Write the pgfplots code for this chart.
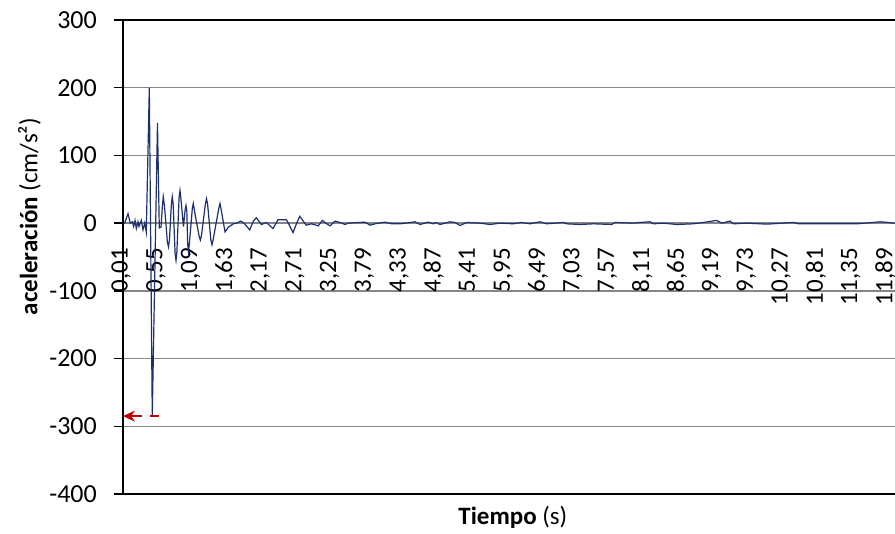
\documentclass[border=0pt]{standalone}
\usepackage{pgfplots}
\pgfplotsset{compat=1.18}
\usepackage{fontspec}
\setmainfont{Carlito}
\usetikzlibrary{arrows.meta,calc}
\definecolor{serie}{RGB}{28,48,112}
\definecolor{grille}{RGB}{134,134,134}
\definecolor{rojo}{RGB}{192,0,0}
\newcommand{\fs}{\fontsize{25bp}{30bp}\selectfont}
\newcommand{\fy}{\fontsize{26bp}{30bp}\selectfont}
\begin{document}
\begin{tikzpicture}
\begin{axis}[name=ax, scale only axis, width=772bp, height=474bp,
  xmin=0, xmax=12, ymin=-400, ymax=300,
  axis x line*=middle, axis y line*=left,
  x axis line style={draw=none},
  y axis line style={black, line width=1.5bp, -},
  ytick={-400,-300,-200,-100,0,100,200,300},
  yticklabels={-400,-300,-200,-100,0,100,200,300},
  ymajorgrids, grid style={grille, line width=1.5bp},
  ytick style={black, line width=1.5bp},
  tick align=outside, major tick length=9bp,
  xtick={0.01,0.55,1.09,1.63,2.17,2.71,3.25,3.79,4.33,4.87,5.41,5.95,6.49,7.03,7.57,8.11,8.65,9.19,9.73,10.27,10.81,11.35,11.89},
  xticklabels={{0,01},{0,55},{1,09},{1,63},{2,17},{2,71},{3,25},{3,79},{4,33},{4,87},{5,41},{5,95},{6,49},{7,03},{7,57},{8,11},{8,65},{9,19},{9,73},{10,27},{10,81},{11,35},{11,89}},
  xtick style={draw=none},
  hide obscured x ticks=false,
  xticklabel style={font=\fs, xshift=-2.5bp, yshift=-16bp, rotate=90, anchor=east, inner sep=0pt},
  yticklabel style={font=\fy, xshift=-17bp, anchor=east, inner sep=0pt},
  xlabel={\textbf{Tiempo} (s)},
  ylabel={\textbf{aceleración} (cm/s²)},
  every axis x label/.style={at={(axis description cs:0.505,-0.0485)}, anchor=center, font=\fs},
  every axis y label/.style={at={(axis description cs:-0.121,0.585)}, rotate=90, anchor=center, font=\fs},
  clip=false,
]
\addplot[serie, line width=1.2bp] coordinates {
(0.010,0) (0.026,0) (0.078,14) (0.113,0) (0.145,2) (0.166,-5) (0.187,4) (0.207,-8) (0.233,2) (0.249,-5)
(0.284,4) (0.311,-10) (0.337,0) (0.362,-13) (0.409,200) (0.455,-285) (0.536,148) (0.564,-7) (0.591,-6)
(0.612,25) (0.626,39) (0.645,25) (0.690,-28) (0.707,-35) (0.722,-25) (0.752,28) (0.766,39) (0.780,28)
(0.810,-45) (0.824,-55) (0.838,-42) (0.872,38) (0.886,48) (0.900,36) (0.940,-5) (0.966,20) (0.979,26)
(0.992,18) (1.006,-32) (1.018,-42) (1.032,-30) (1.078,22) (1.093,29) (1.108,20) (1.146,0) (1.185,-20)
(1.202,-25) (1.220,-18) (1.280,28) (1.298,36) (1.315,28) (1.366,-25) (1.384,-32) (1.402,-24)
(1.490,22) (1.508,29) (1.526,20) (1.586,-13) (1.637,-6) (1.715,-1) (1.767,0)
(1.830,3) (1.881,0) (1.970,-10) (2.026,3) (2.072,8) (2.150,-2) (2.228,1) (2.332,-8) (2.410,5) (2.539,5)
(2.570,0) (2.643,-14) (2.700,0) (2.747,10) (2.849,-3) (2.927,-1) (3.005,-3) (3.036,-4) (3.098,4)
(3.167,-1) (3.218,-4) (3.296,3) (3.373,1) (3.451,-2) (3.502,0) (3.762,1.5) (3.840,-3) (3.917,-1)
(4.073,1.5) (4.177,-1) (4.306,-1) (4.513,1.5) (4.539,2) (4.617,-2) (4.746,1.5) (4.824,-1) (4.866,1)
(4.928,-2) (5.083,2) (5.161,1) (5.239,-3.5) (5.343,1) (5.550,0) (5.705,-2) (5.861,0) (6.067,-1)
(6.198,1) (6.327,-1) (6.482,2) (6.586,-1) (6.844,1) (6.897,-1) (7.104,-2) (7.311,-1) (7.597,-2)
(7.648,1) (7.933,0) (8.037,1) (8.192,2) (8.244,-1) (8.399,0) (8.607,-2) (8.865,-1) (9.021,1)
(9.229,4) (9.307,0) (9.436,3) (9.487,-1) (9.695,0) (10.006,-1.5) (10.420,1) (10.498,-1) (10.835,-1)
(11.042,-1) (11.405,-1) (11.664,1) (11.768,2) (11.897,1) (11.974,0) (12.000,0)
};
\addplot[rojo, line width=1.5bp, -{Stealth[length=12bp,width=11bp]}] coordinates {(0.30,-285) (0.0,-285)};
\addplot[rojo, line width=2bp] coordinates {(0.42,-285) (0.565,-285)};
\draw[black, line width=1.5bp] (rel axis cs:0,1) -- (rel axis cs:1,1);
\draw[black, line width=1.5bp] (rel axis cs:0,0) -- (rel axis cs:1,0);
\end{axis}
\pgfresetboundingbox
\path[use as bounding box] ($(ax.south west)+(-123bp,-40bp)$) rectangle ($(ax.north east)+(0bp,20bp)$);
\end{tikzpicture}
\end{document}
